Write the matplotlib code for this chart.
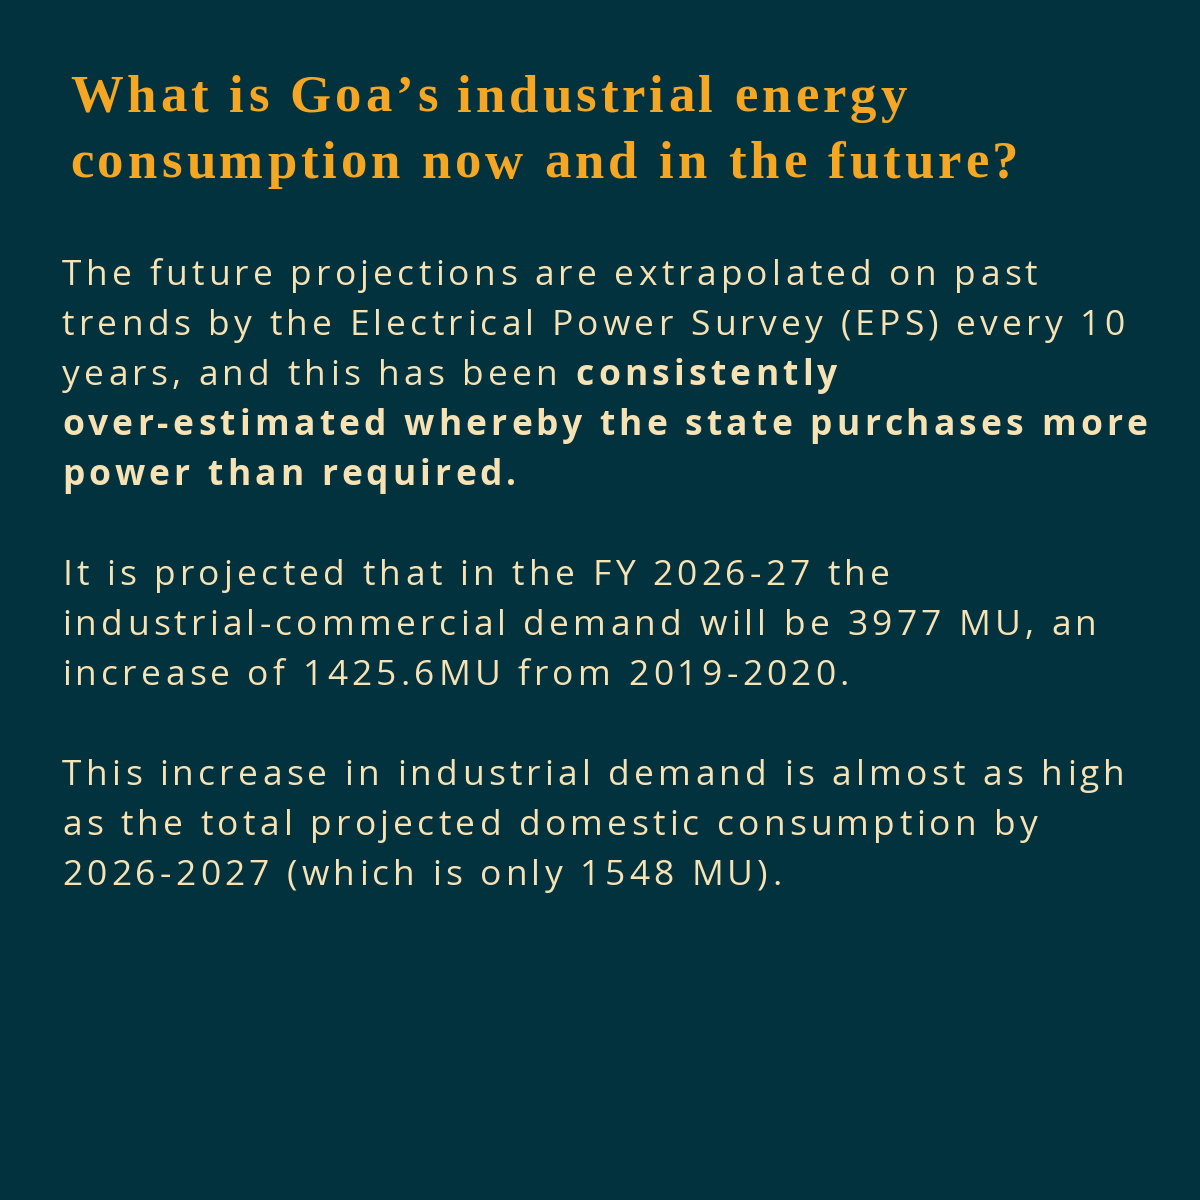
import matplotlib
matplotlib.use("Agg")
import matplotlib.pyplot as plt
from matplotlib.textpath import TextPath
from matplotlib.font_manager import FontProperties

BG = "#03323f"
ORANGE = "#f5a623"
CREAM = "#f7e2b3"

TITLE = ["What is Goa\u2019s industrial energy",
         "consumption now and in the future?"]
# each line: list of (text, bold)
BODY = [
    [("The future projections are extrapolated on past", False)],
    [("trends by the Electrical Power Survey (EPS) every 10", False)],
    [("years, and this has been ", False), ("consistently", True)],
    [("over-estimated whereby the state purchases more", True)],
    [("power than required.", True)],
    None,
    [("It is projected that in the FY 2026-27 the", False)],
    [("industrial-commercial demand will be 3977 MU, an", False)],
    [("increase of 1425.6MU from 2019-2020.", False)],
    None,
    [("This increase in industrial demand is almost as high", False)],
    [("as the total projected domestic consumption by", False)],
    [("2026-2027 (which is only 1548 MU).", False)],
]

W = H = 1200
fig = plt.figure(figsize=(12, 12), dpi=100)
fig.patch.set_facecolor(BG)
ax = fig.add_axes([0, 0, 1, 1])
ax.set_xlim(0, W)
ax.set_ylim(H, 0)
ax.axis("off")

PX = 100 / 72  # pixels per point


def adv(s, fp, size):
    # advance width of string s in pixels (uses trailing marker to keep spaces)
    if not s:
        return 0.0
    a = TextPath((0, 0), s + "|", prop=fp, size=size).get_extents().x1
    b = TextPath((0, 0), "|", prop=fp, size=size).get_extents().x1
    return (a - b) * PX


def tracked(x, y, s, fp, size, track, color):
    # draw string char by char with extra letter spacing, return end x
    for i, ch in enumerate(s):
        if ch != " ":
            ax.text(x + adv(s[:i], fp, size) + i * track, y, ch,
                    fontproperties=fp, fontsize=size, color=color,
                    va="baseline")
    return x + adv(s, fp, size) + len(s) * track


fp_title = FontProperties(family="Liberation Serif", weight="bold")
for i, line in enumerate(TITLE):
    tracked(70, 112 + i * 66, line, fp_title, 38, 4.0, ORANGE)

fp_reg = FontProperties(family="Open Sans", weight="normal")
fp_bold = FontProperties(family="Open Sans", weight="bold")
y = 285
for line in BODY:
    if line is not None:
        x = 62
        for txt, bold in line:
            fp = fp_bold if bold else fp_reg
            x = tracked(x, y, txt, fp, 25.5, 4.2, CREAM)
    y += 50

fig.savefig("out.png", dpi=100, facecolor=BG)
